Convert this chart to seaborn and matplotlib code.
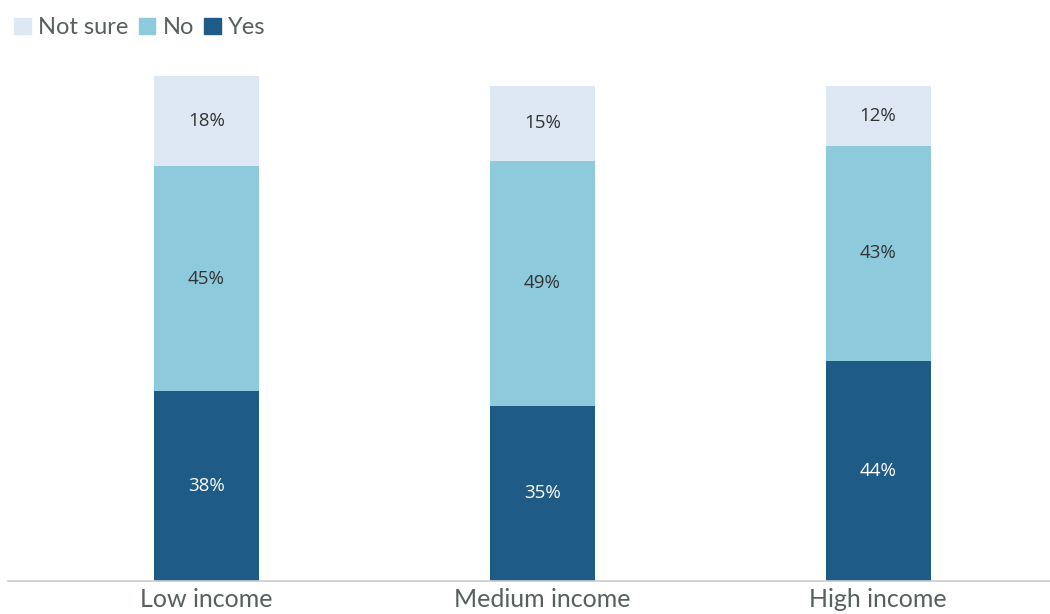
import numpy as np
import pandas as pd
import matplotlib
matplotlib.use("Agg")
import matplotlib.pyplot as plt
from matplotlib.patches import Patch
import seaborn as sns

# ── Data ──────────────────────────────────────────────────
categories = ["Low income", "Medium income", "High income"]
yes_vals = [38, 35, 44]
no_vals = [45, 49, 43]
notsure_vals = [18, 15, 12]

COLORS = {"Yes": "#1f5b87", "No": "#8dcbdc", "Not sure": "#dde8f4"}
TEXT_GRAY = "#57605c"

sns.set_theme(style="white")
plt.rcParams["font.family"] = ["Lato", "DejaVu Sans"]

df = pd.DataFrame({"cat": categories, "Yes": yes_vals, "No": no_vals,
                   "Not sure": notsure_vals})
df["YesNo"] = df["Yes"] + df["No"]
df["Total"] = df["YesNo"] + df["Not sure"]

fig = plt.figure(figsize=(10.5, 6.14), dpi=100)
ax = fig.add_axes([8 / 1050, 1 - 581 / 614, 1 - 8 / 1050, 520 / 614])

# stacked via layered cumulative bars
layers = [("Total", "Not sure", notsure_vals, "#333333"),
          ("YesNo", "No", no_vals, "#333333"),
          ("Yes", "Yes", yes_vals, "white")]
for col, name, vals, tcol in layers:
    sns.barplot(data=df, x="cat", y=col, color=COLORS[name], width=0.3125,
                saturation=1, ax=ax, linewidth=0, order=categories)
    cont = ax.containers[-1]
    bot = [b - v for b, v in zip(df[col], vals)]
    for rect, v, b0 in zip(cont, vals, bot):
        cx = rect.get_x() + rect.get_width() / 2
        ax.text(cx, b0 + v / 2, f"{v}%", ha="center", va="center",
                fontsize=13.5, color=tcol, family=["Open Sans", "DejaVu Sans"])

ax.set_xlim(-0.591, 2.512)
ax.set_ylim(0, 104)
ax.set_xlabel("")
ax.set_ylabel("")
ax.set_yticks([])
for s in ["top", "right", "left"]:
    ax.spines[s].set_visible(False)
ax.spines["bottom"].set_color("#c8ccc8")
ax.spines["bottom"].set_linewidth(1.2)
ax.tick_params(axis="x", length=0, pad=5, labelsize=18, labelcolor=TEXT_GRAY)

handles = [Patch(color=COLORS[k]) for k in ["Not sure", "No", "Yes"]]
fig.legend(handles, ["Not sure", "No", "Yes"], loc="upper left",
           bbox_to_anchor=(0.0, 0.995), ncol=3, frameon=False, fontsize=17,
           handlelength=0.7, handleheight=0.7, handletextpad=0.3,
           columnspacing=0.45, borderaxespad=0.2, labelcolor=TEXT_GRAY)

fig.savefig("out.png", dpi=100)
